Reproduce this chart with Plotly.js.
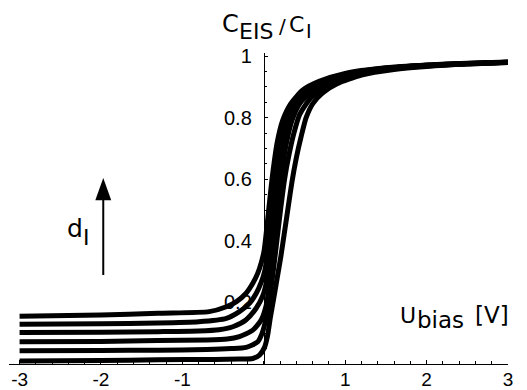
<!DOCTYPE html>
<html><head><meta charset="utf-8">
<script src="https://cdn.plot.ly/plotly-3.0.1.min.js"></script>
<style>html,body{margin:0;padding:0;background:#fff}#chart{width:527px;height:390px}</style>
</head><body><div id="chart"></div>
<script>
// Ubias [V] and C_EIS/C_I for six insulator thicknesses (thickest first)
const u1 = [-3, -2, -1.3, -0.67, -0.46, -0.34, -0.22, -0.135, -0.074, -0.03, 0.005, 0.04, 0.08, 0.12, 0.165, 0.23, 0.33, 0.48, 0.68, 1, 1.5, 2, 2.5, 3];
const r1 = [0.155, 0.159, 0.165, 0.170, 0.186, 0.202, 0.229, 0.262, 0.295, 0.33, 0.37, 0.45, 0.55, 0.64, 0.72, 0.79, 0.845, 0.89, 0.918, 0.944, 0.962, 0.971, 0.977, 0.981];

const u2 = [-3, -2, -1.3, -0.8, -0.46, -0.3, -0.176, -0.094, -0.032, 0.01, 0.045, 0.08, 0.12, 0.16, 0.205, 0.27, 0.37, 0.51, 0.72, 1, 1.5, 2, 2.5, 3];
const r2 = [0.129, 0.131, 0.133, 0.137, 0.148, 0.170, 0.197, 0.229, 0.265, 0.30, 0.36, 0.45, 0.55, 0.64, 0.72, 0.79, 0.845, 0.888, 0.916, 0.941, 0.961, 0.970, 0.976, 0.980];

const u3 = [-3, -2, -1.3, -0.8, -0.55, -0.38, -0.22, -0.094, -0.012, 0.035, 0.075, 0.115, 0.155, 0.195, 0.245, 0.31, 0.41, 0.55, 0.76, 1, 1.5, 2, 2.5, 3];
const r3 = [0.102, 0.103, 0.105, 0.107, 0.111, 0.121, 0.143, 0.181, 0.222, 0.27, 0.35, 0.45, 0.55, 0.64, 0.72, 0.79, 0.845, 0.886, 0.914, 0.938, 0.959, 0.970, 0.976, 0.980];

const u4 = [-3, -2, -1.3, -0.7, -0.45, -0.3, -0.135, -0.032, 0.029, 0.07, 0.11, 0.15, 0.19, 0.23, 0.28, 0.345, 0.44, 0.59, 0.8, 1, 1.5, 2, 2.5, 3];
const r4 = [0.072, 0.073, 0.076, 0.078, 0.081, 0.089, 0.110, 0.143, 0.19, 0.26, 0.35, 0.45, 0.55, 0.64, 0.72, 0.79, 0.845, 0.885, 0.913, 0.935, 0.958, 0.969, 0.975, 0.980];

const u5 = [-3, -2, -1.3, -0.7, -0.4, -0.217, -0.074, -0.02, 0.03, 0.075, 0.12, 0.165, 0.21, 0.255, 0.31, 0.37, 0.44, 0.58, 0.8, 1, 1.5, 2, 2.5, 3];
const r5 = [0.043, 0.044, 0.045, 0.047, 0.050, 0.054, 0.072, 0.10, 0.15, 0.22, 0.31, 0.41, 0.51, 0.60, 0.68, 0.75, 0.81, 0.865, 0.905, 0.931, 0.957, 0.968, 0.975, 0.979];

const u6 = [-3, -2, -1.3, -0.6, -0.3, -0.135, -0.053, 0.009, 0.045, 0.08, 0.12, 0.165, 0.21, 0.255, 0.3, 0.345, 0.4, 0.46, 0.52, 0.6, 0.72, 0.9, 1.2, 1.6, 2, 2.5, 3];
const r6 = [0.010, 0.011, 0.014, 0.015, 0.016, 0.018, 0.029, 0.054, 0.09, 0.15, 0.21, 0.28, 0.35, 0.43, 0.51, 0.59, 0.67, 0.74, 0.80, 0.845, 0.88, 0.91, 0.938, 0.956, 0.966, 0.974, 0.979];

const xTickVals = [-3, -2, -1, 1, 2, 3];
const xTickText = ['-3', '-2', '-1', '1', '2', '3'];
const yTickVals = [0.2, 0.4, 0.6, 0.8, 1];
const yTickText = ['0.2', '0.4', '0.6', '0.8', '1'];

const seriesU = [u1, u2, u3, u4, u5, u6];
const seriesR = [r1, r2, r3, r4, r5, r6];

const W = 527, H = 390, L = 9, R = 19, T = 53, B = 26;
const xr = [-3.13, 3.0], yr = [0, 1.01];
function P(px, py) { return { x: (px - L) / (W - L - R), y: (H - B - py) / (H - T - B) }; }

const traces = seriesU.map((u, i) => ({
  x: u, y: seriesR[i], type: 'scatter', mode: 'lines',
  line: { color: '#000', width: 5, shape: 'spline', smoothing: 0.6 },
  hoverinfo: 'skip', showlegend: false
}));

function txt(text, px, py, size, family) {
  const p = P(px, py);
  return { text: text, xref: 'paper', yref: 'paper', x: p.x, y: p.y, xanchor: 'left', yanchor: 'middle',
    showarrow: false, font: { family: family || 'DejaVu Sans', size: size, color: '#000' } };
}

const annotations = [
  txt('C', 220, 23.7, 24),
  txt('EIS', 237, 31.4, 22),
  txt('/', 277, 25.5, 20),
  txt('C', 287, 24.5, 22),
  txt('I', 304, 31.0, 19),
  txt('U', 397.5, 315.1, 22),
  txt('bias', 415, 320.4, 23),
  txt('[V]', 473, 315.4, 23),
  txt('d', 65, 228.3, 25),
  txt('I', 81, 237.4, 22)
];

// arrow (decoration) in data coordinates
const ax = -1.972;
const shapes = [
  { type: 'line', xref: 'x', yref: 'y', x0: ax, x1: ax, y0: 0.289, y1: 0.54, line: { color: '#000', width: 2 } },
  { type: 'path', xref: 'x', yref: 'y', path: `M ${ax},0.604 L ${ax - 0.098},0.532 L ${ax + 0.098},0.532 Z`,
    fillcolor: '#000', line: { color: '#000', width: 0 } }
];

const layout = {
  width: W, height: H,
  margin: { l: L, r: R, t: T, b: B, pad: 0 },
  paper_bgcolor: '#fff', plot_bgcolor: 'rgba(0,0,0,0)',
  showlegend: false,
  xaxis: {
    range: xr, showgrid: false, zeroline: false, showline: true, linecolor: '#000', linewidth: 1,
    tickvals: xTickVals, ticktext: xTickText, ticks: 'inside', ticklen: 4, tickwidth: 1, tickcolor: '#000',
    minor: { dtick: 0.2, tick0: 0, ticks: 'inside', ticklen: 3, tickcolor: '#000', showgrid: false },
    tickfont: { family: 'Liberation Sans', size: 19, color: '#000' },
    ticklabelstandoff: -2,
    layer: 'below traces', fixedrange: true
  },
  yaxis: {
    range: yr, showgrid: false, zeroline: false, showline: true, linecolor: '#000', linewidth: 1,
    anchor: 'free', position: (0 - xr[0]) / (xr[1] - xr[0]),
    tickvals: yTickVals, ticktext: yTickText, ticks: 'inside', ticklen: 3, tickwidth: 1, tickcolor: '#000',
    minor: { dtick: 0.05, tick0: 0, ticks: 'inside', ticklen: 2, tickcolor: '#000', showgrid: false },
    tickfont: { family: 'Liberation Sans', size: 20, color: '#000' },
    ticklabelstandoff: 8,
    layer: 'below traces', fixedrange: true
  },
  annotations: annotations,
  shapes: shapes
};

Plotly.newPlot('chart', traces, layout, { staticPlot: true, displayModeBar: false });
</script></body></html>
